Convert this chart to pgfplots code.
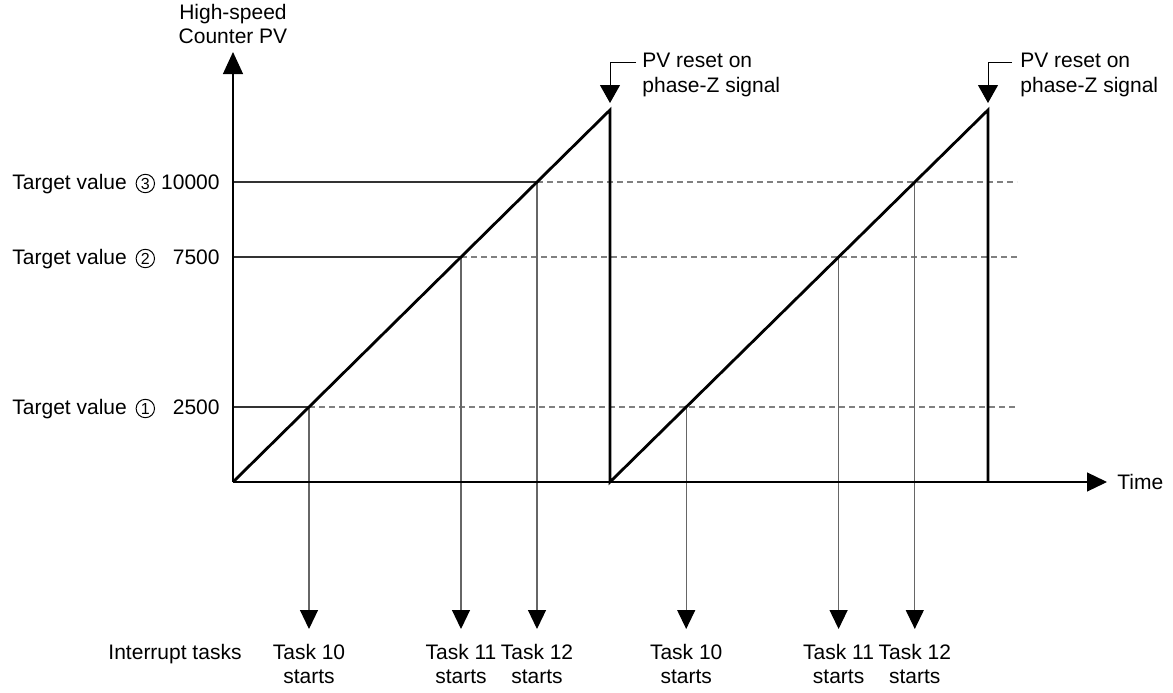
\documentclass[border=0pt]{standalone}
\usepackage{pgfplots}
\pgfplotsset{compat=1.18}
\usepackage{fontspec}
\setmainfont{Liberation Sans}
\usetikzlibrary{arrows.meta}
\newcommand{\circnum}[1]{\hspace{1.5pt}\tikz[baseline={([yshift=-3pt]c.center)}]\node[draw, circle, anchor=center, inner sep=0pt, line width=0.5pt, minimum size=9.2pt](c){\fontsize{8pt}{8pt}\selectfont #1};}
\begin{document}
\fontsize{10.5pt}{12pt}\selectfont
\begin{tikzpicture}
\begin{axis}[scale only axis, width=586.5pt, height=346pt,
  xmin=-233, xmax=940, ymin=-7000, ymax=16066.67,
  hide axis, clip=false]
\path (rel axis cs:0,0) rectangle (rel axis cs:1,1);
% target dashed lines
\addplot[gray, line width=0.6pt, dash pattern=on 3pt off 2pt] coordinates {(76,2500)(784,2500)};
\addplot[gray, line width=0.6pt, dash pattern=on 3pt off 2pt] coordinates {(228,7500)(784,7500)};
\addplot[gray, line width=0.6pt, dash pattern=on 3pt off 2pt] coordinates {(304,10000)(784,10000)};
\addplot[black!80, line width=0.6pt] coordinates {(0,2500)(76,2500)};
\addplot[black!80, line width=0.6pt] coordinates {(0,7500)(228,7500)};
\addplot[black!80, line width=0.6pt] coordinates {(0,10000)(304,10000)};
% task arrows
\pgfplotsset{taskarrow/.style={black!60, line width=0.6pt, -{Triangle[length=9.5pt,width=9pt,color=black]}}}
\addplot[taskarrow] coordinates {(76,2500)(76,-4900)};
\addplot[taskarrow] coordinates {(228,7500)(228,-4900)};
\addplot[taskarrow] coordinates {(304,10000)(304,-4900)};
\addplot[taskarrow] coordinates {(453.2,2500)(453.2,-4900)};
\addplot[taskarrow] coordinates {(605.6,7500)(605.6,-4900)};
\addplot[taskarrow] coordinates {(681.8,10000)(681.8,-4900)};
% axes
\addplot[black, line width=0.6pt, -{Triangle[length=11pt,width=10pt]}] coordinates {(0,0)(0,14333)};
\addplot[black, line width=0.6pt, -{Triangle[length=10pt,width=9.5pt]}] coordinates {(0,0)(874,0)};
% sawtooth
\addplot[black, line width=1.4pt, line join=miter] coordinates {(0,0)(377,12400)(377,0)(755,12400)(755,0)};
% callouts
\addplot[black, line width=0.5pt, -{Triangle[length=9pt,width=10pt]}] coordinates {(403,13967)(377,13967)(377,12633)};
\addplot[black, line width=0.5pt, -{Triangle[length=9pt,width=10pt]}] coordinates {(779,13967)(755,13967)(755,12633)};
% texts
\node[anchor=base, inner sep=0] at (axis cs:0,15433) {High-speed};
\node[anchor=base, inner sep=0] at (axis cs:0,14633) {Counter PV};
\node[anchor=base west, inner sep=0] at (axis cs:409,13800) {PV reset on};
\node[anchor=base west, inner sep=0] at (axis cs:409,12967) {phase-Z signal};
\node[anchor=base west, inner sep=0] at (axis cs:787,13800) {PV reset on};
\node[anchor=base west, inner sep=0] at (axis cs:787,12967) {phase-Z signal};
\node[anchor=base west, inner sep=0] at (axis cs:884,-250) {Time};
\node[anchor=base west, inner sep=0] at (axis cs:-221,9750) {Target value \circnum{3}};
\node[anchor=base east, inner sep=0] at (axis cs:-13,9750) {10000};
\node[anchor=base west, inner sep=0] at (axis cs:-221,7250) {Target value \circnum{2}};
\node[anchor=base east, inner sep=0] at (axis cs:-13,7250) {7500};
\node[anchor=base west, inner sep=0] at (axis cs:-221,2250) {Target value \circnum{1}};
\node[anchor=base east, inner sep=0] at (axis cs:-13,2250) {2500};
\node[anchor=base, inner sep=0] at (axis cs:-58,-5933) {Interrupt tasks};
\node[anchor=base, inner sep=0] at (axis cs:76,-5933) {Task 10};
\node[anchor=base, inner sep=0] at (axis cs:76,-6700) {starts};
\node[anchor=base, inner sep=0] at (axis cs:228,-5933) {Task 11};
\node[anchor=base, inner sep=0] at (axis cs:228,-6700) {starts};
\node[anchor=base, inner sep=0] at (axis cs:304,-5933) {Task 12};
\node[anchor=base, inner sep=0] at (axis cs:304,-6700) {starts};
\node[anchor=base, inner sep=0] at (axis cs:453.2,-5933) {Task 10};
\node[anchor=base, inner sep=0] at (axis cs:453.2,-6700) {starts};
\node[anchor=base, inner sep=0] at (axis cs:605.6,-5933) {Task 11};
\node[anchor=base, inner sep=0] at (axis cs:605.6,-6700) {starts};
\node[anchor=base, inner sep=0] at (axis cs:681.8,-5933) {Task 12};
\node[anchor=base, inner sep=0] at (axis cs:681.8,-6700) {starts};
\end{axis}
\end{tikzpicture}
\end{document}
